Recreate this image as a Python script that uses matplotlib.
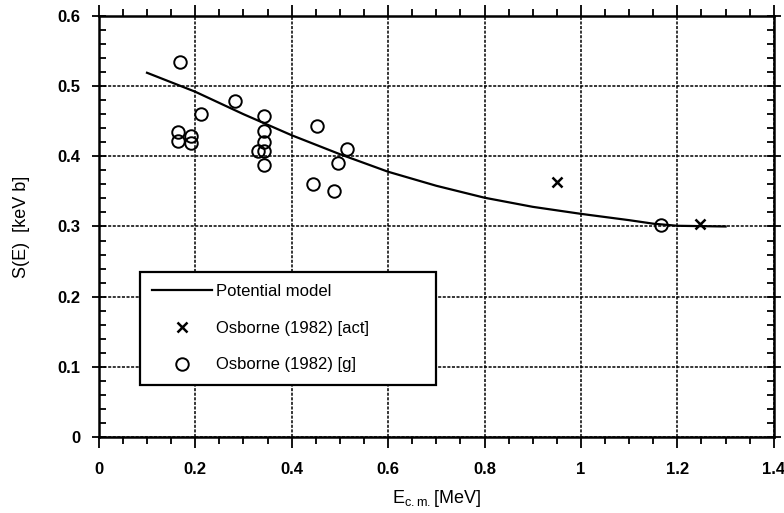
import matplotlib.pyplot as plt
import numpy as np

plt.rcParams['font.family'] = ['Liberation Sans', 'DejaVu Sans']

# potential model curve
model_e = [0.10, 0.20, 0.30, 0.40, 0.50, 0.60, 0.70, 0.80, 0.90, 1.00, 1.10, 1.15, 1.20, 1.30]
model_s = [0.519, 0.492, 0.460, 0.430, 0.403, 0.378, 0.358, 0.341, 0.328, 0.318, 0.309, 0.304, 0.301, 0.300]

# Osborne (1982) activation
act_e = [0.95, 1.247]
act_s = [0.364, 0.304]

# Osborne (1982) gamma
g_e = [0.168, 0.282, 0.213, 0.165, 0.165, 0.192, 0.191, 0.342, 0.342, 0.342,
       0.331, 0.342, 0.342, 0.453, 0.514, 0.497, 0.445, 0.488, 1.167]
g_s = [0.535, 0.479, 0.460, 0.434, 0.422, 0.429, 0.419, 0.458, 0.436, 0.420,
       0.407, 0.407, 0.388, 0.443, 0.410, 0.390, 0.360, 0.351, 0.302]

fig = plt.figure(figsize=(7.84, 5.13), dpi=100)
ax = fig.add_axes([0.126, 0.148, 0.861, 0.821])

ax.plot(model_e, model_s, color='black', lw=1.6, label='Potential model')
ax.plot(act_e, act_s, 'x', color='black', ms=7, mew=1.8, label='Osborne (1982) [act]')
ax.plot(g_e, g_s, 'o', mfc='none', mec='black', ms=9, mew=1.4, label='Osborne (1982) [g]')

ax.set_xlim(0, 1.4)
ax.set_ylim(0, 0.6)
ax.set_xticks(np.arange(0, 1.41, 0.2))
ax.set_yticks(np.arange(0, 0.61, 0.1))
ax.set_xticks(np.arange(0, 1.41, 0.05), minor=True)
ax.set_yticks(np.arange(0, 0.61, 0.02), minor=True)
ax.set_xticklabels(['0', '0.2', '0.4', '0.6', '0.8', '1', '1.2', '1.4'])
ax.set_yticklabels(['0', '0.1', '0.2', '0.3', '0.4', '0.5', '0.6'])

ax.tick_params(axis='x', which='both', direction='out', top=True, width=1.3, labelsize=12, pad=10)
ax.tick_params(axis='x', which='major', length=8)
ax.tick_params(axis='x', which='minor', length=5)
ax.tick_params(axis='y', which='major', direction='inout', right=True, length=10, width=1.3,
               labelsize=12, pad=8)
ax.tick_params(axis='y', which='minor', direction='in', right=True, length=5, width=1.3)
for lab in ax.get_xticklabels() + ax.get_yticklabels():
    lab.set_fontweight('bold')

for sp in ax.spines.values():
    sp.set_linewidth(1.8)

ax.grid(True, which='major', color='black', linestyle=(0, (2, 1)), linewidth=1.1)

ax.set_xlabel(r'E$_{\mathregular{c.m.}}$[MeV]', fontsize=13, labelpad=8)
ax.set_ylabel('S(E)  [keV b]', fontsize=13, labelpad=20)

leg = ax.legend(loc='lower left', bbox_to_anchor=(0.061, 0.124, 0.439, 0.263), mode='expand',
                borderaxespad=0, fancybox=False, framealpha=1, edgecolor='black', fontsize=12,
                handlelength=3.6, borderpad=0.75, labelspacing=1.3, handletextpad=0.2)
leg.get_frame().set_linewidth(1.6)

plt.savefig('out.png', dpi=100)
